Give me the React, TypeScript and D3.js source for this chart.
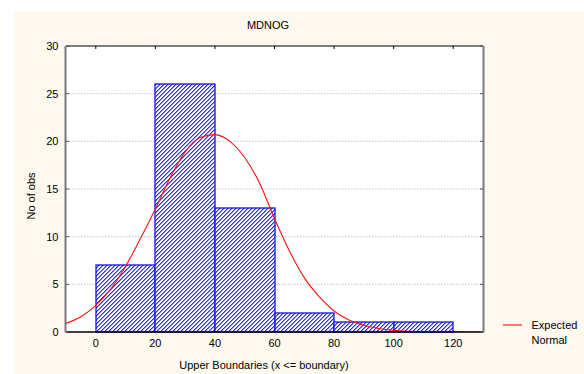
import React from "react";
import * as d3 from "d3";

const binStarts = [0, 20, 40, 60, 80, 100];
const binWidth = 20;
const counts = [7, 26, 13, 2, 1, 1];
const xTicks = [0, 20, 40, 60, 80, 100, 120];
const yTicks = [0, 5, 10, 15, 20, 25, 30];
const gridTicks = [5, 10, 15, 20, 25];
const curveX = [-10, -5, 0, 5, 10, 15, 20, 25, 30, 35, 40, 45, 50, 55, 60, 65, 70, 75, 80, 85, 90, 95, 100, 105, 110, 115, 120, 125, 130];
const curveY = [0.9, 1.6, 2.8, 4.5, 6.9, 9.8, 12.9, 16.2, 18.9, 20.4, 20.7, 20.0, 18.3, 15.6, 11.9, 8.5, 5.7, 3.7, 2.2, 1.25, 0.7, 0.36, 0.17, 0.08, 0.04, 0.02, 0.01, 0.0, 0.0];

const W = 584, H = 374;
const L = 66, R = 483, T = 46, B = 332;
const hatchRows = [0, 1, 2, 3];

export default function App() {
  const x = d3.scaleLinear().domain([-10, 130]).range([L, R]);
  const y = d3.scaleLinear().domain([0, 30]).range([B, T]);
  const line = d3
    .line<number>()
    .x((_, i) => x(curveX[i]))
    .y((d) => y(d))
    .curve(d3.curveMonotoneX);
  const font = "'Liberation Sans', Arial, sans-serif";
  const blue = "#1010ff";
  return (
    <svg
      width={W}
      height={H}
      style={{ position: "fixed", left: 0, top: 0 }}
      fontFamily={font}
    >
      <defs>
        <pattern id="hatch" patternUnits="userSpaceOnUse" width={4} height={4}>
          <rect width={4} height={4} fill="#ffffff" shapeRendering="crispEdges" />
          {hatchRows.map((r) => (
            <g key={r}>
              <rect x={3 - r} y={r} width={1} height={1} fill="#2f2fff" shapeRendering="crispEdges" />
              <rect x={(4 - r) % 4} y={r} width={1} height={1} fill="#8a8aff" shapeRendering="crispEdges" />
            </g>
          ))}
        </pattern>
        <clipPath id="plotClip">
          <rect x={L} y={T} width={R - L} height={B - T} />
        </clipPath>
      </defs>
      <rect x={14} y={11} width={W - 14} height={H - 11} fill="#fdf9ee" />
      <rect x={L} y={T} width={R - L} height={B - T} fill="#ffffff" />
      <text x={268} y={29} fontSize={11} textAnchor="middle" fill="#000">MDNOG</text>
      {gridTicks.map((t) => (
        <line key={"g" + t} x1={L} x2={R} y1={y(t)} y2={y(t)} stroke="#c4c4c4" strokeWidth={1} strokeDasharray="1.5,1.5" />
      ))}
      {counts.map((c, i) => (
        <rect
          key={"b" + i}
          x={Math.round(x(binStarts[i]))}
          y={Math.round(y(c))}
          width={Math.round(x(binStarts[i] + binWidth)) - Math.round(x(binStarts[i]))}
          height={Math.round(y(0)) - Math.round(y(c))}
          fill="url(#hatch)"
          stroke={blue}
          strokeWidth={1.3}
        />
      ))}
      <path d={line(curveY) || ""} fill="none" stroke="#ff1010" strokeWidth={1.1} clipPath="url(#plotClip)" />
      <line x1={L} x2={R} y1={T} y2={T} stroke="#000" strokeWidth={1.2} />
      <line x1={L} x2={R} y1={B} y2={B} stroke="#000" strokeWidth={1.4} />
      <line x1={L - 0.5} x2={L - 0.5} y1={T} y2={B + 0.5} stroke="#7a7a7a" strokeWidth={2} />
      <line x1={R + 0.5} x2={R + 0.5} y1={T} y2={B + 0.5} stroke="#7a7a7a" strokeWidth={2} />
      {xTicks.map((t) => (
        <g key={"xt" + t}>
          <line x1={x(t)} x2={x(t)} y1={T} y2={T + 3} stroke="#000" strokeWidth={1} />
          <text x={x(t)} y={347} fontSize={11} textAnchor="middle" fill="#000">{t}</text>
        </g>
      ))}
      {yTicks.map((t) => (
        <g key={"yt" + t}>
          <line x1={L} x2={L + 3} y1={y(t)} y2={y(t)} stroke="#555" strokeWidth={1} />
          <line x1={R - 3} x2={R} y1={y(t)} y2={y(t)} stroke="#555" strokeWidth={1} />
          <text x={58.5} y={y(t)} dy="0.36em" fontSize={11} textAnchor="end" fill="#000">{t}</text>
        </g>
      ))}
      <text x={264} y={369} fontSize={11} textAnchor="middle" fill="#000">Upper Boundaries (x &lt;= boundary)</text>
      <text transform="translate(35,196) rotate(-90)" fontSize={11} textAnchor="middle" fill="#000">No of obs</text>
      <line x1={503} x2={522} y1={325} y2={325} stroke="#ff1010" strokeWidth={1.1} />
      <text x={531.5} y={328.5} fontSize={11} fill="#000">Expected</text>
      <text x={531.5} y={344} fontSize={11} fill="#000">Normal</text>
    </svg>
  );
}
